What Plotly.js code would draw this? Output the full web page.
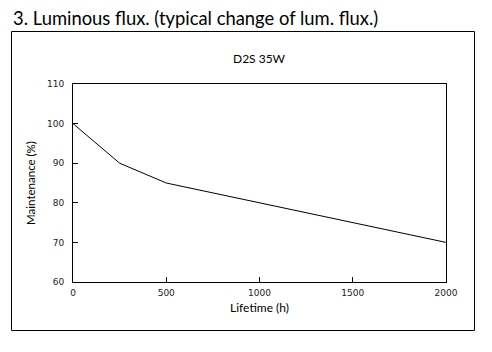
<!DOCTYPE html>
<html>
<head>
<meta charset="utf-8">
<script src="https://cdn.plot.ly/plotly-3.0.1.min.js"></script>
<style>html,body{margin:0;padding:0;background:#fff;}#chart{width:492px;height:352px;}</style>
</head>
<body>
<div id="chart"></div>
<script>
const lifetimeHours = [0, 250, 500, 2000];
const maintenancePct = [100, 90, 85, 70];
const xTickVals = [0, 500, 1000, 1500, 2000];
const yTickVals = [60, 70, 80, 90, 100, 110];
const seriesName = "D2S 35W";
const pageTitle = "3. Luminous flux. (typical change of lum. flux.)";

const trace = {
  x: lifetimeHours,
  y: maintenancePct,
  type: "scatter",
  mode: "lines",
  line: {color: "#000", width: 1},
  hoverinfo: "skip",
  showlegend: false
};

const layout = {
  width: 492, height: 352,
  margin: {l: 73, r: 46, t: 84, b: 70, pad: 0},
  paper_bgcolor: "#fff", plot_bgcolor: "#fff",
  font: {family: "Lato, 'Open Sans', sans-serif", color: "#000"},
  title: {
    text: pageTitle,
    font: {size: 18.4, family: "Lato, sans-serif", color: "#000"},
    x: 13/492, xanchor: "left", xref: "container",
    y: 1 - 19/352, yanchor: "middle", yref: "container"
  },
  xaxis: {
    range: [0, 2000], tickvals: xTickVals, ticktext: xTickVals.map(String),
    showgrid: false, zeroline: false, showline: true, linecolor: "#000", linewidth: 1, mirror: true,
    ticks: "inside", ticklen: 5, tickwidth: 1, tickcolor: "#000",
    ticklabelstandoff: 2,
    tickfont: {size: 9, family: "'DejaVu Sans', Verdana, sans-serif", color: "#222"},
    title: {text: "Lifetime (h)", font: {size: 12, color: "#000"}, standoff: 6}
  },
  yaxis: {
    range: [60, 110], tickvals: yTickVals, ticktext: yTickVals.map(String),
    showgrid: false, zeroline: false, showline: true, linecolor: "#000", linewidth: 1, mirror: true,
    ticks: "inside", ticklen: 5, tickwidth: 1, tickcolor: "#000",
    ticklabelstandoff: 6,
    tickfont: {size: 9, family: "'DejaVu Sans', Verdana, sans-serif", color: "#222"},
    title: {text: "Maintenance (%)", font: {size: 11.5, color: "#000"}, standoff: 8}
  },
  annotations: [{
    text: seriesName, xref: "paper", yref: "paper", x: 0.5, y: (282 - 58) / 198,
    xanchor: "center", yanchor: "middle", showarrow: false,
    font: {size: 12, color: "#000"}
  }],
  shapes: [{
    type: "rect", xref: "paper", yref: "paper",
    x0: (11.5 - 73) / 373, x1: (474.5 - 73) / 373,
    y0: (282 - 330.5) / 198, y1: (282 - 31.5) / 198,
    line: {color: "#000", width: 1}, fillcolor: "rgba(0,0,0,0)", layer: "below"
  }]
};

Plotly.newPlot("chart", [trace], layout, {staticPlot: true, displayModeBar: false});
</script>
</body>
</html>
